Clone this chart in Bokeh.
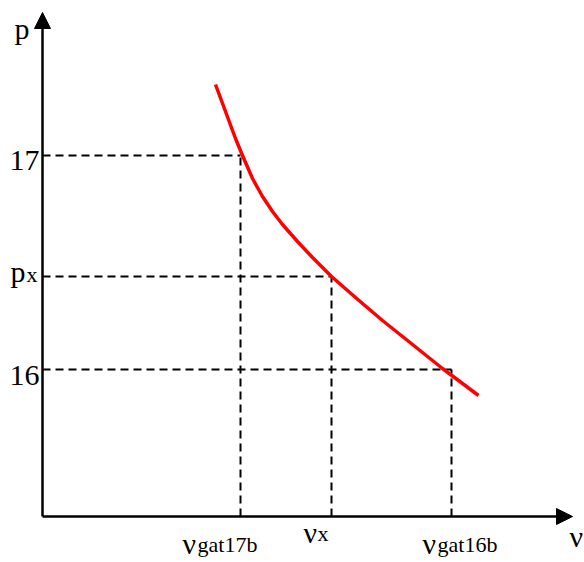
from bokeh.plotting import figure
from bokeh.models import ColumnDataSource, Range1d, Arrow, NormalHead
from bokeh.core.properties import value
from bokeh.embed import file_html
from bokeh.resources import INLINE

# ---- data (schematic units) ----
curve_v = [173, 183, 193, 200, 210, 220, 230, 240, 255, 270, 289, 305, 320, 340, 360, 380, 400, 436]
curve_p = [432, 405, 378, 361, 338, 320, 305, 292, 275, 259, 240, 226, 213, 196, 180, 164, 148, 121]

v_marks = [198, 289, 409]          # nu_gat17b, nu_x, nu_gat16b
p_marks = [361, 240, 147]          # 17, p_x, 16

y_tick_main = ["17", "p", "16"]
y_tick_sub = ["", "x", ""]
x_tick_main = ["ν", "ν", "ν"]
x_tick_sub = ["gat17b", "x", "gat16b"]

axis_label_y = "p"
axis_label_x = "ν"
v_axis_end = 530
p_axis_end = 504

FONT = value("Liberation Serif")
MAIN = "30px"
SUB = "22px"

p = figure(width=584, height=562, output_backend="svg", toolbar_location=None,
           x_range=Range1d(-42, 542), y_range=Range1d(-46, 516),
           x_axis_location=None, y_axis_location=None,
           min_border=0, outline_line_color=None)
p.grid.visible = False

# dashed guide lines
n = len(v_marks)
p.segment(x0=[0] * n, y0=p_marks, x1=v_marks, y1=p_marks,
          line_color="black", line_width=2, line_dash="8 5")
p.segment(x0=v_marks, y0=[0] * n, x1=v_marks, y1=p_marks,
          line_color="black", line_width=2, line_dash="8 5")

# curve
p.line(curve_v, curve_p, line_color="red", line_width=3.5, line_join="round")

# axes with arrows
p.add_layout(Arrow(end=NormalHead(size=16, fill_color="black", line_color="black", line_width=1),
                   x_start=0, y_start=0, x_end=0, y_end=p_axis_end,
                   line_color="black", line_width=2.5))
p.add_layout(Arrow(end=NormalHead(size=16, fill_color="black", line_color="black", line_width=1),
                   x_start=0, y_start=0, x_end=v_axis_end, y_end=0,
                   line_color="black", line_width=2.5))

# y tick labels
ysrc = ColumnDataSource(dict(x=[0] * n, y=p_marks, t=y_tick_main,
                             xo=[-3, -17, -3], yo=[5, -5, 6]))
p.text(x="x", y="y", text="t", source=ysrc, x_offset="xo", y_offset="yo",
       text_align="right", text_baseline="alphabetic",
       text_font=FONT, text_font_size=MAIN, text_color="black")
ysub = ColumnDataSource(dict(x=[0] * n, y=p_marks, t=y_tick_sub,
                             xo=[0, -16, 0], yo=[0, -2, 0]))
p.text(x="x", y="y", text="t", source=ysub, x_offset="xo", y_offset="yo",
       text_align="left", text_baseline="alphabetic",
       text_font=FONT, text_font_size=SUB, text_color="black")

# x tick labels
xsrc = ColumnDataSource(dict(x=v_marks, y=[0] * n, t=x_tick_main,
                             xo=[-58, -28, -29], yo=[27, 16, 27]))
p.text(x="x", y="y", text="t", source=xsrc, x_offset="xo", y_offset="yo",
       text_align="left", text_baseline="alphabetic",
       text_font=FONT, text_font_size=MAIN, text_color="black")
xsub = ColumnDataSource(dict(x=v_marks, y=[0] * n, t=x_tick_sub,
                             xo=[-43, -14, -14], yo=[28, 17, 28]))
p.text(x="x", y="y", text="t", source=xsub, x_offset="xo", y_offset="yo",
       text_align="left", text_baseline="alphabetic",
       text_font=FONT, text_font_size=SUB, text_color="black")

# axis labels
p.text(x=[0], y=[p_axis_end], text=[axis_label_y], x_offset=-13, y_offset=16,
       text_align="right", text_baseline="alphabetic",
       text_font=FONT, text_font_size=MAIN, text_color="black")
p.text(x=[v_axis_end], y=[0], text=[axis_label_x], x_offset=-3, y_offset=20,
       text_align="left", text_baseline="alphabetic",
       text_font=FONT, text_font_size=MAIN, text_color="black")

open("out.html", "w").write(file_html(p, INLINE))
